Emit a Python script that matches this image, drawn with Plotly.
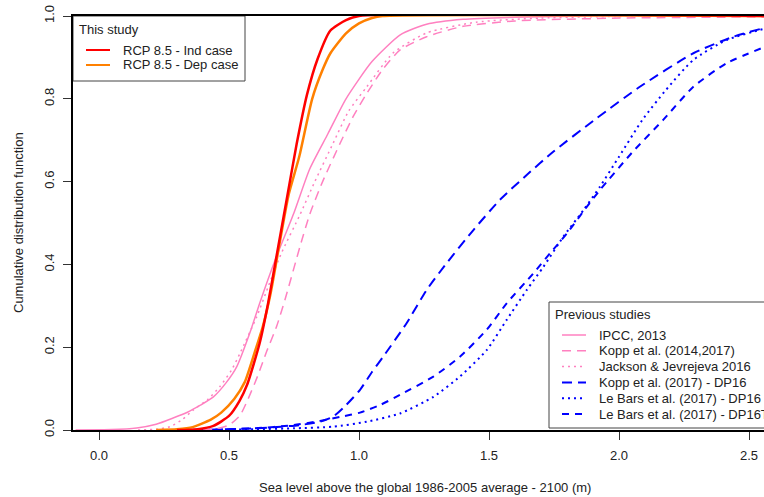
import plotly.graph_objects as go

# ---------------- data ----------------
red_x = [0.30, 0.38, 0.44, 0.50, 0.54, 0.57, 0.60, 0.62, 0.65, 0.68, 0.70, 0.72, 0.76, 0.80, 0.84, 0.89, 0.95, 1.00, 2.60]
red_y = [0.0, 0.002, 0.01, 0.034, 0.07, 0.11, 0.17, 0.215, 0.305, 0.41, 0.48, 0.55, 0.69, 0.81, 0.895, 0.965, 0.99, 1.0, 1.0]

orange_x = [0.22, 0.30, 0.36, 0.43, 0.47, 0.52, 0.56, 0.60, 0.63, 0.66, 0.70, 0.73, 0.77, 0.82, 0.86, 0.89, 0.95, 1.00, 1.05, 1.09, 2.60]
orange_y = [0.0, 0.002, 0.007, 0.025, 0.042, 0.075, 0.115, 0.19, 0.25, 0.33, 0.47, 0.57, 0.66, 0.80, 0.87, 0.91, 0.958, 0.982, 0.995, 1.0, 1.0]

ipcc_x = [-0.09, 0.05, 0.145, 0.22, 0.285, 0.34, 0.39, 0.44, 0.49, 0.53, 0.58, 0.62, 0.68, 0.75, 0.81, 0.88, 0.95, 1.05, 1.16, 1.26, 1.40, 1.60, 1.90, 2.60]
ipcc_y = [0.0, 0.001, 0.005, 0.014, 0.029, 0.043, 0.06, 0.08, 0.115, 0.153, 0.234, 0.31, 0.415, 0.525, 0.63, 0.715, 0.80, 0.89, 0.955, 0.98, 0.992, 0.997, 1.0, 1.0]

kopp14_x = [0.40, 0.45, 0.50, 0.542, 0.57, 0.61, 0.645, 0.683, 0.715, 0.773, 0.81, 0.86, 0.927, 0.98, 1.03, 1.09, 1.158, 1.26, 1.40, 1.60, 2.00, 2.60]
kopp14_y = [0.0, 0.003, 0.012, 0.035, 0.07, 0.13, 0.19, 0.25, 0.314, 0.443, 0.52, 0.60, 0.692, 0.76, 0.813, 0.87, 0.918, 0.95, 0.975, 0.988, 0.995, 0.998]

jackson_x = [0.15, 0.22, 0.273, 0.32, 0.362, 0.42, 0.465, 0.51, 0.542, 0.607, 0.65, 0.70, 0.773, 0.83, 0.90, 0.96, 1.03, 1.13, 1.26, 1.45, 1.70, 2.00, 2.60]
jackson_y = [0.0, 0.002, 0.008, 0.025, 0.048, 0.075, 0.105, 0.145, 0.185, 0.274, 0.345, 0.425, 0.52, 0.60, 0.692, 0.77, 0.829, 0.91, 0.959, 0.985, 0.995, 0.999, 1.0]

kopp17_x = [0.30, 0.45, 0.60, 0.70, 0.773, 0.85, 0.90, 0.95, 1.004, 1.05, 1.093, 1.183, 1.26, 1.337, 1.44, 1.542, 1.645, 1.747, 1.914, 2.08, 2.286, 2.44, 2.60]
kopp17_y = [0.0, 0.001, 0.004, 0.008, 0.012, 0.02, 0.032, 0.06, 0.097, 0.14, 0.177, 0.258, 0.338, 0.403, 0.483, 0.556, 0.616, 0.672, 0.753, 0.829, 0.91, 0.95, 0.978]

lebars_x = [0.40, 0.60, 0.75, 0.90, 1.03, 1.158, 1.286, 1.388, 1.491, 1.568, 1.645, 1.709, 1.786, 1.863, 1.927, 2.00, 2.09, 2.18, 2.286, 2.414, 2.54, 2.60]
lebars_y = [0.0, 0.002, 0.004, 0.008, 0.02, 0.04, 0.08, 0.129, 0.193, 0.266, 0.338, 0.394, 0.467, 0.531, 0.588, 0.66, 0.749, 0.821, 0.894, 0.942, 0.966, 0.975]

lebarsT_x = [0.40, 0.60, 0.75, 0.85, 0.93, 1.004, 1.08, 1.158, 1.286, 1.388, 1.491, 1.568, 1.67, 1.735, 1.80, 1.876, 1.927, 2.05, 2.17, 2.286, 2.414, 2.60]
lebarsT_y = [0.0, 0.004, 0.012, 0.022, 0.032, 0.042, 0.06, 0.085, 0.129, 0.177, 0.242, 0.306, 0.378, 0.427, 0.475, 0.539, 0.58, 0.67, 0.749, 0.829, 0.886, 0.935]

x_ticks = [0.0, 0.5, 1.0, 1.5, 2.0, 2.5]
x_tick_labels = ["0.0", "0.5", "1.0", "1.5", "2.0", "2.5"]
y_ticks = [0.0, 0.2, 0.4, 0.6, 0.8, 1.0]
y_tick_labels = ["0.0", "0.2", "0.4", "0.6", "0.8", "1.0"]

study_names = ["RCP 8.5 - Ind case", "RCP 8.5 - Dep case"]
prev_names = ["IPCC, 2013", "Kopp et al. (2014,2017)", "Jackson & Jevrejeva 2016",
              "Kopp et al. (2017) - DP16", "Le Bars et al. (2017) - DP16", "Le Bars et al. (2017) - DP16T"]

x_title = "Sea level above the global 1986-2005 average - 2100 (m)"
y_title = "Cumulative distribution function"

# ---------------- styles ----------------
RED = "#FF0000"
ORANGE = "#FF8000"
PINK = "#FF80C0"
BLUE = "#0000FF"
FONT = "Liberation Sans, Arial, sans-serif"
TXT = "#222222"

series = [
    (kopp17_x, kopp17_y, BLUE, 2, "10px,6px"),
    (lebars_x, lebars_y, BLUE, 2, "2px,4px"),
    (lebarsT_x, lebarsT_y, BLUE, 2, "7px,6px"),
    (ipcc_x, ipcc_y, PINK, 1.5, "solid"),
    (kopp14_x, kopp14_y, PINK, 1.5, "9px,6px"),
    (jackson_x, jackson_y, PINK, 1.5, "2px,4px"),
    (orange_x, orange_y, ORANGE, 2.5, "solid"),
    (red_x, red_y, RED, 2.5, "solid"),
]

fig = go.Figure()
for xs, ys, col, w, dash in series:
    fig.add_trace(go.Scatter(x=xs, y=ys, mode="lines", showlegend=False,
                             line=dict(color=col, width=w, dash=dash, shape="spline", smoothing=0.6),
                             hoverinfo="skip"))

W, H = 764, 497
L, R, T, B = 73, 0, 16, 67
PW, PH = W - L - R, H - T - B


def PX(px):
    return (px - L) / PW


def PY(py):
    return (H - B - py) / PH


shapes = []
annotations = []

# legend 1 : This study
shapes.append(dict(type="rect", xref="paper", yref="paper", x0=PX(73), x1=PX(245), y0=PY(81), y1=PY(16),
                   line=dict(color="#444", width=1), fillcolor="white", layer="below"))
annotations.append(dict(xref="paper", yref="paper", x=PX(77), y=PY(29), text="This study", showarrow=False,
                        xanchor="left", yanchor="middle", font=dict(family=FONT, size=13, color=TXT)))
for i, (name, col) in enumerate(zip(study_names, [RED, ORANGE])):
    yy = PY(50 + 15 * i)
    shapes.append(dict(type="line", xref="paper", yref="paper", x0=PX(86), x1=PX(110), y0=yy, y1=yy,
                       line=dict(color=col, width=2)))
    annotations.append(dict(xref="paper", yref="paper", x=PX(121), y=yy, text=name, showarrow=False,
                            xanchor="left", yanchor="middle", font=dict(family=FONT, size=13, color=TXT)))

# legend 2 : Previous studies
shapes.append(dict(type="rect", xref="paper", yref="paper", x0=PX(549), x1=PX(800), y0=PY(428), y1=PY(302),
                   line=dict(color="#444", width=1), fillcolor="white", layer="below"))
annotations.append(dict(xref="paper", yref="paper", x=PX(553), y=PY(314), text="Previous studies", showarrow=False,
                        xanchor="left", yanchor="middle", font=dict(family=FONT, size=13, color=TXT)))
prev_styles = [(PINK, 1.5, "solid"), (PINK, 1.5, "9px,6px"), (PINK, 1.5, "2px,4px"),
               (BLUE, 2, "10px,6px"), (BLUE, 2, "2px,4px"), (BLUE, 2, "7px,6px")]
for i, (name, (col, w, dash)) in enumerate(zip(prev_names, prev_styles)):
    py = 335 + 15.8 * i
    yy = PY(py)
    shapes.append(dict(type="line", xref="paper", yref="paper", x0=PX(562), x1=PX(586), y0=yy, y1=yy,
                       line=dict(color=col, width=w, dash=dash)))
    annotations.append(dict(xref="paper", yref="paper", x=PX(597), y=yy, text=name, showarrow=False,
                            xanchor="left", yanchor="middle", font=dict(family=FONT, size=13, color=TXT)))

# axis titles
annotations.append(dict(xref="paper", yref="paper", x=PX(425), y=PY(487), text=x_title, showarrow=False,
                        xanchor="center", yanchor="middle", font=dict(family=FONT, size=13, color=TXT)))
annotations.append(dict(xref="paper", yref="paper", x=PX(18), y=PY(223), text=y_title, showarrow=False,
                        textangle=-90, xanchor="center", yanchor="middle",
                        font=dict(family=FONT, size=13, color=TXT)))

fig.update_layout(
    width=W, height=H, autosize=False,
    margin=dict(l=L, r=R, t=T, b=B, pad=0),
    paper_bgcolor="white", plot_bgcolor="white",
    font=dict(family=FONT, size=13, color=TXT),
    shapes=shapes, annotations=annotations,
    xaxis=dict(range=[-0.1, -0.1 + PW / 260.0], tickvals=x_ticks, ticktext=x_tick_labels,
               ticks="outside", ticklen=8, tickwidth=1, tickcolor="#333",
               showline=True, linewidth=2, linecolor="black", mirror=True,
               showgrid=False, zeroline=False, ticklabelstandoff=4,
               tickfont=dict(family=FONT, size=13, color=TXT)),
    yaxis=dict(range=[0, 1], tickvals=y_ticks, ticktext=y_tick_labels, tickangle=-90,
               ticks="outside", ticklen=8, tickwidth=1, tickcolor="#333",
               showline=True, linewidth=2, linecolor="black", mirror=False,
               showgrid=False, zeroline=False, ticklabelstandoff=4,
               tickfont=dict(family=FONT, size=13, color=TXT)),
)

fig.write_html("out.html", config={"displayModeBar": False, "staticPlot": True},
               post_script="document.body.style.margin='0';document.body.style.overflow='hidden';")
